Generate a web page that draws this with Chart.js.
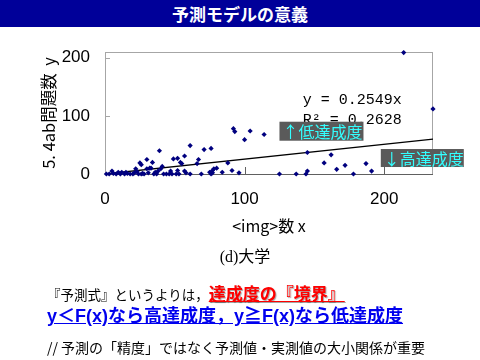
<!DOCTYPE html>
<html><head><meta charset="utf-8">
<script src="https://cdn.jsdelivr.net/npm/chart.js@4.4.1/dist/chart.umd.min.js"></script>
<style>
html,body{margin:0;padding:0;background:#fff;}
#wrap{position:relative;width:480px;height:360px;overflow:hidden;font-family:"Noto Sans CJK JP",sans-serif;}
#bar{position:absolute;left:0;top:0;width:480px;height:27px;background:#000099;color:#fff;text-align:center;font-size:17px;line-height:27px;font-weight:bold;}
canvas{position:absolute;left:0;top:0;}
.t{position:absolute;white-space:nowrap;line-height:20px;}
#cap{left:0;width:490px;text-align:center;top:247px;font-size:16px;font-family:"Liberation Serif","Noto Sans CJK JP",serif;}
#l1{left:47px;top:283px;font-size:13.5px;color:#000;}
#l1 b{font-size:17px;color:#ff0000;text-decoration:underline;text-shadow:1px 1px 1px rgba(0,0,0,0.35);}
#l2{left:47px;top:306px;font-size:18px;font-weight:bold;color:#0000ee;text-decoration:underline;font-family:"Liberation Sans","Noto Sans CJK JP",sans-serif;}
#l3{left:47px;top:337px;font-size:14px;color:#000;}
</style></head><body>
<div id="wrap">
<canvas id="c" width="480" height="360"></canvas>
<div id="bar">予測モデルの意義</div>
<div class="t" id="cap">(d)大学</div>
<div class="t" id="l1">『予測式』というよりは，<b>達成度の『境界』</b></div>
<div class="t" id="l2">y＜F(x)なら高達成度，y≧F(x)なら低達成度</div>
<div class="t" id="l3">// 予測の「精度」ではなく予測値・実測値の大小関係が重要</div>
</div>
<script>
const imgCount = [1,3,5,6,8,9.5,11,12,14,15,16,18,20,21,22,23,24,25,26,26,27,28,30,30,31,32,33,34,35,36,37,38,39,40,41,42,44,46,47,48,49,51,52,52,53,54,55,57,57,58,61,61,66,67,69,71,75,76,76,77,77,78,80,84,88,91,92,93,96,100,104,114,125,137,144,145,145,157,162,166,172,178,187,191,214,235];
const problemCount = [0,0,5,1,0,3,0,3,0,3,1,0,0,2,9,4,0,19,16,0,1,0,25,9,2,10,10,20,0,3,0,5,40,9,13,0,0,0,5,0,26,0,27,6,0,20,18,31,5,2,49,0,18,25,0,42,3,44,0,2,6,9,10,3,19,6,78,73,2,59,74,68,0,0,0,5,37,19,33,8,15,0,18,5,209,112];
const slope = 0.2549;
const rSquared = 0.2628;
const xTicks = [0,100,200];
const yTicks = [0,100,200];
const xMax = 235, yMax = 210;
const xTitle = '<img>数 x';
const yTitle = '5. 4ab問題数  y';
const eqText = 'y = ' + slope + 'x';
const r2Text = 'R² = ' + rSquared;
const lowLabel = '↑低達成度';
const highLabel = '↓高達成度';

const framePlugin = {
  id:'frame',
  beforeDatasetsDraw(chart){
    const {ctx, chartArea:a, scales:{x,y}} = chart;
    ctx.save();
    ctx.lineWidth = 1;
    ctx.strokeStyle = '#a6a6a6';
    ctx.strokeRect(a.left+0.5, a.top+0.5, a.right-a.left-1, a.bottom-a.top);
    yTicks.forEach(v=>{ if(v===0) return; const py=Math.round(y.getPixelForValue(v))+0.5;
      ctx.beginPath(); ctx.moveTo(a.left, py); ctx.lineTo(a.left+5, py); ctx.stroke(); });
    ctx.strokeStyle = '#606060';
    ctx.beginPath(); ctx.moveTo(a.left, a.bottom+0.5); ctx.lineTo(a.right, a.bottom+0.5); ctx.stroke();
    xTicks.forEach(v=>{ if(v===0) return; const px=Math.round(x.getPixelForValue(v))+0.5;
      ctx.beginPath(); ctx.moveTo(px, a.bottom); ctx.lineTo(px, a.bottom-7); ctx.stroke(); });
    ctx.restore();
  },
  afterDraw(chart){
    const {ctx, scales:{x,y}} = chart;
    ctx.save();
    ctx.fillStyle = '#000';
    ctx.font = '15px "Liberation Mono", monospace';
    ctx.textBaseline = 'middle'; ctx.textAlign = 'left';
    ctx.fillText(eqText, x.getPixelForValue(141.6), y.getPixelForValue(128));
    ctx.fillText(r2Text, x.getPixelForValue(141.6), y.getPixelForValue(93));
    const box = (label, xv, yv, w, h) => {
      const px = x.getPixelForValue(xv), py = y.getPixelForValue(yv);
      ctx.fillStyle = '#5a5a5a';
      ctx.fillRect(px, py, w, h);
      ctx.fillStyle = '#33ffff';
      ctx.font = '16px "Noto Sans CJK JP", sans-serif';
      ctx.textBaseline = 'middle';
      ctx.fillText(label, px+3, py+h/2+1);
    };
    box(lowLabel, 125, 90, 84, 19);
    box(highLabel, 197.6, 43, 83, 18);
    ctx.restore();
  }
};

new Chart(document.getElementById('c'), {
  type:'scatter',
  data:{datasets:[
    {data: imgCount.map((v,i)=>({x:v, y:problemCount[i]})), pointStyle:'rectRot', pointRadius:2.6,
     backgroundColor:'#00007f', borderColor:'#00007f', borderWidth:0, clip:false, order:1},
    {type:'line', data:[{x:0,y:0},{x:xMax,y:slope*xMax}], borderColor:'#000', borderWidth:1.3,
     pointRadius:0, fill:false, order:2}
  ]},
  options:{
    responsive:false, animation:false, events:[],
    layout:{padding:{left:0, top:52, right:47, bottom:124}},
    plugins:{legend:{display:false}, tooltip:{enabled:false}},
    scales:{
      x:{type:'linear', min:0, max:xMax,
        afterBuildTicks:s=>{s.ticks = xTicks.map(v=>({value:v}));},
        afterFit:s=>{s.height = 62;},
        grid:{display:false, drawTicks:false}, border:{display:false},
        ticks:{padding:15, color:'#000', maxRotation:0, autoSkip:false,
          font:{size:17, family:'"Liberation Sans Narrow","Liberation Sans",sans-serif'}},
        title:{display:true, text:xTitle, color:'#000', padding:{top:0,bottom:0},
          font:{size:16, family:'"Noto Sans CJK JP",sans-serif'}}
      },
      y:{type:'linear', min:0, max:yMax,
        afterBuildTicks:s=>{s.ticks = yTicks.map(v=>({value:v}));},
        afterFit:s=>{s.width = 105;},
        grid:{display:false, drawTicks:false}, border:{display:false},
        ticks:{padding:15, color:'#000', autoSkip:false,
          font:{size:17, family:'"Liberation Sans Narrow","Liberation Sans",sans-serif'}},
        title:{display:true, text:yTitle, color:'#000', padding:{top:39,bottom:0},
          font:{size:16.5, family:'"Noto Sans CJK JP",sans-serif'}}
      }
    }
  },
  plugins:[framePlugin]
});
</script>
</body></html>
